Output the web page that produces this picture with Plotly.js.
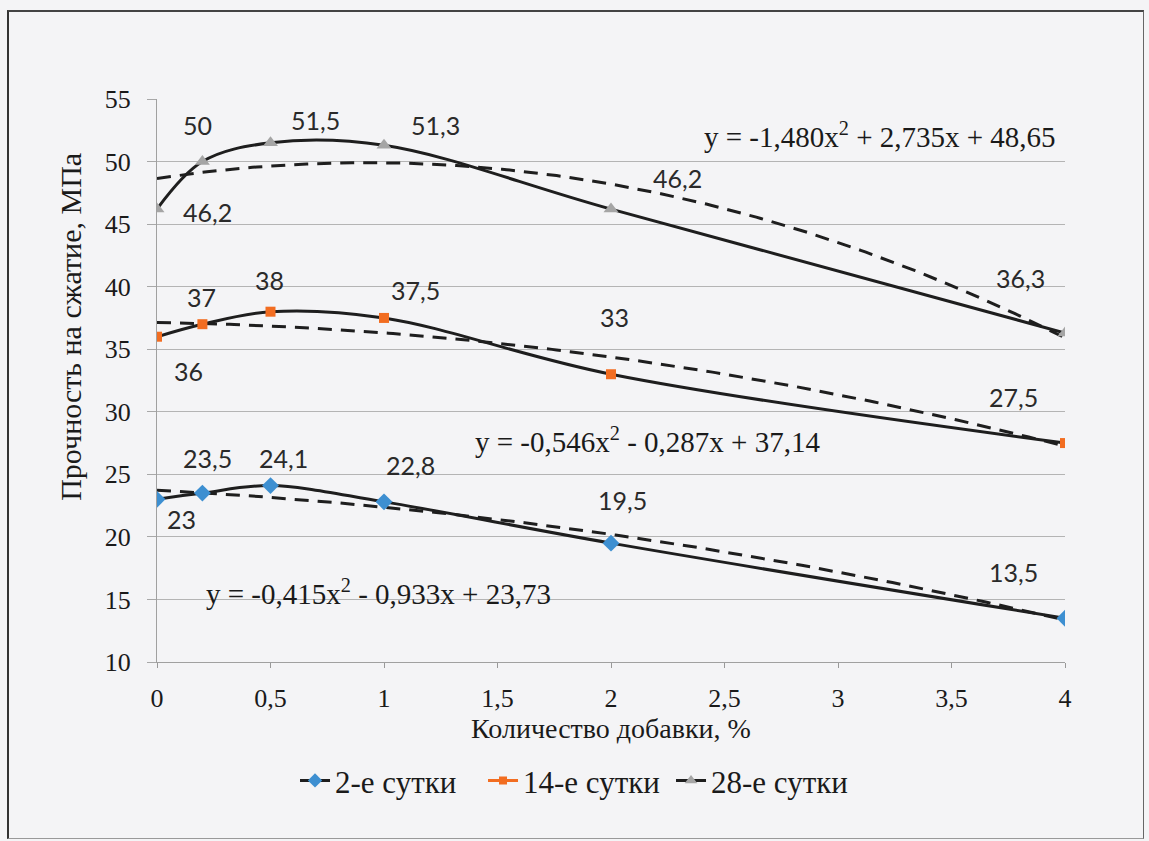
<!DOCTYPE html>
<html>
<head>
<meta charset="utf-8">
<script src="https://cdn.plot.ly/plotly-3.0.1.min.js"></script>
<style>
html,body{margin:0;padding:0;background:#f4f4f6;}
#frame{position:absolute;left:0;top:0;width:1149px;height:841px;}
#border{position:absolute;left:7px;top:10px;width:1134px;height:826px;border-left:2px solid #333;border-top:2px solid #444;border-right:1px solid #666;border-bottom:1px solid #999;pointer-events:none;}
#chart{position:absolute;left:0;top:0;width:1149px;height:841px;}
</style>
</head>
<body>
<div id="frame"><div id="chart"></div><div id="border"></div></div>
<script>
// ---- data ----
const additive = [0, 0.2, 0.5, 1, 2, 4];           // Количество добавки, %
const day2  = [23, 23.5, 24.1, 22.8, 19.5, 13.5];
const day14 = [36, 37, 38, 37.5, 33, 27.5];
const day28 = [46.2, 50, 51.5, 51.3, 46.2, 36.3];
const seriesNames = ['2-е сутки', '14-е сутки', '28-е сутки'];
// polynomial trend coefficients [a, b, c] for y = a x^2 + b x + c
const trend2  = [-0.415, -0.933, 23.73];
const trend14 = [-0.546, -0.287, 37.14];
const trend28 = [-1.480, 2.735, 48.65];
const equations = [
  'y = -0,415x<sup>2</sup> - 0,933x + 23,73',
  'y = -0,546x<sup>2</sup> - 0,287x + 37,14',
  'y = -1,480x<sup>2</sup> + 2,735x + 48,65'
];
const xTicks = [0, 0.5, 1, 1.5, 2, 2.5, 3, 3.5, 4];
const yTicks = [10, 15, 20, 25, 30, 35, 40, 45, 50, 55];
const xTitle = 'Количество добавки, %';
const yTitle = 'Прочность на сжатие, МПа';

// ---- styling ----
const serif = 'Liberation Serif, Times New Roman, serif';
const sans = 'Lato, Open Sans, sans-serif';
const lineCol = '#1e1e1e';
const markerDefs = [
  {symbol:'diamond', color:'#3d8fd1', size:13},
  {symbol:'square', color:'#f26d21', size:10},
  {symbol:'triangle-up', color:'#a5a5a5', size:13}
];
const legendLine = ['#1e1e1e', '#f26d21', '#1e1e1e'];

// label offsets in pixels [xshift, yshift] per point
const labelShift = [
  [[24,-20],[5,35],[13,28],[26,37],[11,43],[-52,46]],
  [[31,-34],[-1,27],[-1,32],[31,28],[3,57],[-52,46]],
  [[50,-3],[-5,37],[45,23],[51,20],[66,31],[-45,55]]
];
const eqPos = [[0.974, 15.6], [2.159, 27.75], [3.185, 52.1]];

const allSeries = [day2, day14, day28];
const allTrends = [trend2, trend14, trend28];

const traces = [];
const annotations = [];
const fmt = v => String(v).replace('.', ',');

allSeries.forEach((ys, i) => {
  const tx = [], ty = [];
  const c = allTrends[i];
  for (let k = 0; k <= 200; k++) {
    const x = 4 * k / 200;
    tx.push(x);
    ty.push(c[0]*x*x + c[1]*x + c[2]);
  }
  traces.push({
    x: tx, y: ty, mode: 'lines', type: 'scatter', showlegend: false, hoverinfo: 'skip',
    line: {color: lineCol, width: 3, dash: '14px,9px'}
  });
  traces.push({
    x: additive, y: ys, mode: 'lines+markers', type: 'scatter', showlegend: false,
    line: {color: lineCol, width: 3, shape: 'spline', smoothing: 1},
    marker: {symbol: markerDefs[i].symbol, color: markerDefs[i].color, size: markerDefs[i].size}
  });
  ys.forEach((v, j) => {
    annotations.push({
      x: additive[j], y: v, xref: 'x', yref: 'y', text: fmt(v), showarrow: false,
      xshift: labelShift[i][j][0], yshift: labelShift[i][j][1],
      font: {family: sans, size: 25, color: '#2a2a2a'}
    });
  });
  annotations.push({
    x: eqPos[i][0], y: eqPos[i][1], xref: 'x', yref: 'y', text: equations[i], showarrow: false,
    font: {family: serif, size: 29, color: '#1a1a1a'}
  });
});

// y-axis title (placed as in the reference, above the axis centre)
annotations.push({
  x: -0.096, y: 0.595, xref: 'paper', yref: 'paper', text: yTitle, textangle: -90,
  showarrow: false, xanchor: 'center', yanchor: 'middle',
  font: {family: serif, size: 30, color: '#1a1a1a'}
});

seriesNames.forEach((n, i) => {
  traces.push({
    x: [null], y: [null], mode: 'lines+markers', type: 'scatter', name: n,
    line: {color: legendLine[i], width: 3},
    marker: {symbol: markerDefs[i].symbol, color: markerDefs[i].color, size: markerDefs[i].size - 2}
  });
});

const layout = {
  width: 1149, height: 841,
  margin: {l: 157, r: 84, t: 99, b: 179},
  paper_bgcolor: '#f4f4f6', plot_bgcolor: '#f4f4f6',
  separators: ', ',
  showlegend: true,
  legend: {orientation: 'h', x: 0.152, xanchor: 'left', y: -0.211, yanchor: 'middle',
           font: {family: serif, size: 31, color: '#1a1a1a'}, entrywidth: 143, entrywidthmode: 'pixels',
           tracegroupgap: 0, bgcolor: 'rgba(0,0,0,0)'},
  xaxis: {
    range: [0, 4], tickvals: xTicks, ticks: 'outside', ticklen: 5, tickcolor: '#999',
    showgrid: false, zeroline: false, showline: true, linecolor: '#a0a0a0', linewidth: 1,
    tickfont: {family: serif, size: 26, color: '#1a1a1a'}, ticklabelstandoff: 8,
    title: {text: xTitle, font: {family: serif, size: 28, color: '#1a1a1a'}, standoff: 6}
  },
  yaxis: {
    range: [10, 55], tickvals: yTicks, ticks: 'outside', ticklen: 9, tickcolor: '#a8a8a8',
    showgrid: true, gridcolor: '#b4b4b4', gridwidth: 1, zeroline: false,
    showline: true, linecolor: '#a0a0a0', linewidth: 1,
    tickfont: {family: serif, size: 26, color: '#1a1a1a'}, ticklabelstandoff: 11
  },
  annotations: annotations
};

Plotly.newPlot('chart', traces, layout, {displayModeBar: false, staticPlot: true});
</script>
</body>
</html>
